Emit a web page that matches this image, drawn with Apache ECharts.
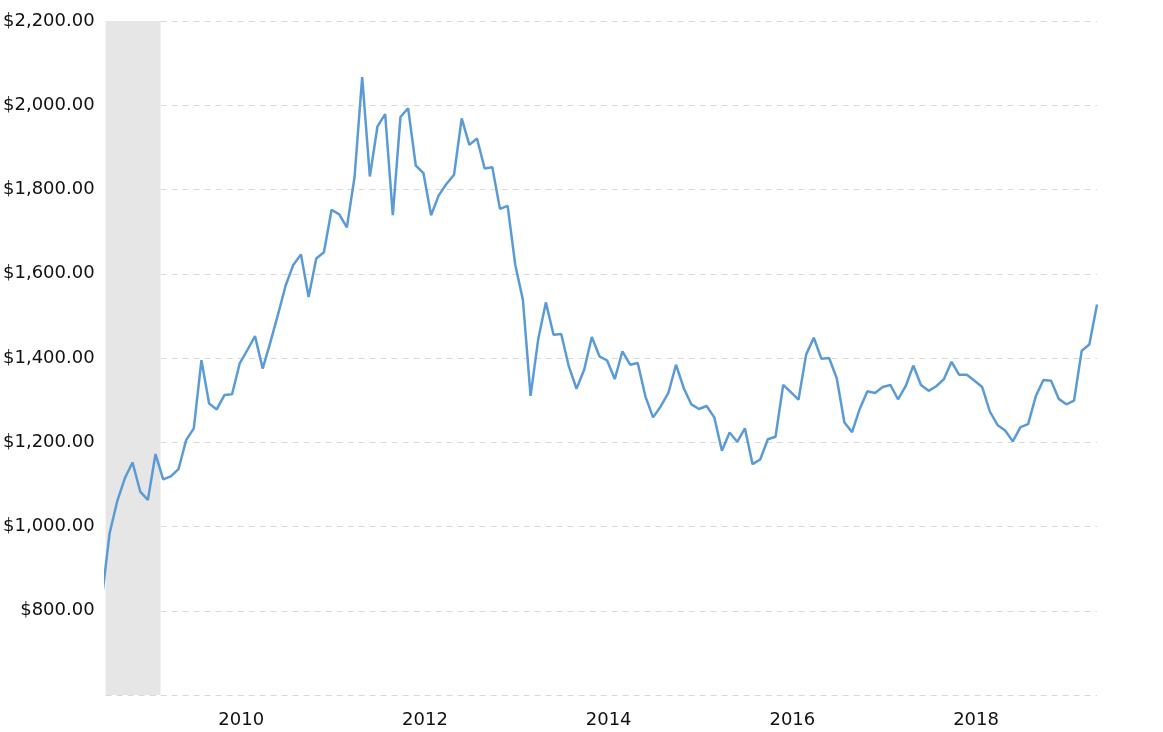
<!DOCTYPE html>
<html>
<head>
<meta charset="utf-8">
<script src="https://cdn.jsdelivr.net/npm/echarts@6/dist/echarts.min.js"></script>
<style>
  html, body { margin: 0; padding: 0; background: #fff; }
  #chart { width: 1163px; height: 732px; }
</style>
</head>
<body>
<div id="chart"></div>
<script>
// Monthly gold price (inflation adjusted), first value = Oct 2008
var firstYear = 2008, firstMonth = 10;
var gold2008 = [830, 984, 1060];
var gold2009 = [1115, 1152, 1083, 1063, 1172, 1112, 1119, 1136, 1205, 1233, 1395, 1292];
var gold2010 = [1278, 1312, 1314, 1387, 1419, 1452, 1375, 1437, 1503, 1572, 1621, 1646];
var gold2011 = [1545, 1636, 1651, 1752, 1741, 1710, 1829, 2067, 1831, 1950, 1979, 1739];
var gold2012 = [1972, 1993, 1857, 1839, 1739, 1786, 1813, 1835, 1969, 1906, 1921, 1850];
var gold2013 = [1853, 1754, 1761, 1621, 1538, 1310, 1445, 1532, 1455, 1457, 1380, 1327];
var gold2014 = [1372, 1450, 1404, 1394, 1350, 1416, 1384, 1388, 1309, 1259, 1285, 1317];
var gold2015 = [1384, 1329, 1290, 1279, 1286, 1259, 1180, 1223, 1201, 1233, 1148, 1159];
var gold2016 = [1207, 1213, 1336, 1319, 1301, 1408, 1448, 1398, 1400, 1352, 1247, 1224];
var gold2017 = [1279, 1321, 1317, 1331, 1336, 1302, 1333, 1382, 1336, 1322, 1333, 1350];
var gold2018 = [1391, 1360, 1360, 1346, 1331, 1273, 1241, 1228, 1202, 1236, 1243, 1309];
var gold2019 = [1348, 1346, 1303, 1290, 1299, 1417, 1432, 1527];

var xLabelYears = [2010, 2012, 2014, 2016, 2018];
var yTicks = [600, 800, 1000, 1200, 1400, 1600, 1800, 2000, 2200];
// x axis in decimal years
var axisStart = 2008.79;
var axisEnd = 2019 + 7 / 12;
var shadeEnd = 2009.388; // end of recession shading

var allValues = [].concat(gold2008, gold2009, gold2010, gold2011, gold2012, gold2013,
                          gold2014, gold2015, gold2016, gold2017, gold2018, gold2019);
var seriesData = allValues.map(function (v, i) {
  var mIdx = firstMonth - 1 + i;          // months since Jan of firstYear
  return [firstYear + mIdx / 12, v];
});

var chart = echarts.init(document.getElementById('chart'));
chart.setOption({
  animation: false,
  backgroundColor: '#ffffff',
  grid: { left: 105, right: 66, top: 21, bottom: 37, containLabel: false },
  xAxis: {
    type: 'value',
    min: axisStart,
    max: axisEnd,
    axisLine: { show: false },
    axisTick: { show: false },
    splitLine: { show: false },
    axisLabel: {
      customValues: xLabelYears,
      formatter: function (v) { return String(Math.round(v)); },
      fontFamily: 'DejaVu Sans',
      fontSize: 18,
      color: '#111',
      margin: 16,
      align: 'center',
      padding: [0, 0, 0, 49]
    }
  },
  yAxis: {
    type: 'value',
    min: yTicks[0],
    max: yTicks[yTicks.length - 1],
    interval: 200,
    axisLine: { show: false },
    axisTick: { show: false },
    splitLine: { show: true, lineStyle: { color: '#d9d9d9', type: [6, 5], width: 1 } },
    axisLabel: {
      fontFamily: 'DejaVu Sans',
      fontSize: 18,
      color: '#111',
      margin: 11,
      padding: [10, 0, 0, 0],
      formatter: function (v) {
        if (v === yTicks[0]) return '';
        return '$' + v.toLocaleString('en-US', { minimumFractionDigits: 2, maximumFractionDigits: 2 });
      }
    }
  },
  series: [{
    type: 'line',
    data: seriesData,
    showSymbol: false,
    symbol: 'none',
    lineStyle: { color: '#5b9bd5', width: 2.5 },
    clip: true,
    z: 3,
    markArea: {
      silent: true,
      itemStyle: { color: '#e6e6e6' },
      data: [[{ xAxis: axisStart }, { xAxis: shadeEnd }]]
    }
  }]
});
</script>
</body>
</html>
